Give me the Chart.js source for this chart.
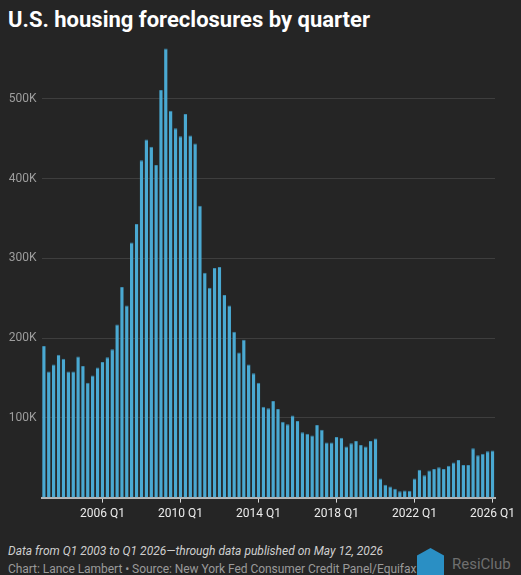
<!DOCTYPE html>
<html>
<head>
<meta charset="utf-8">
<script src="https://cdn.jsdelivr.net/npm/chart.js@4.4.1/dist/chart.umd.min.js"></script>
<style>
  html, body { margin: 0; padding: 0; background: #252525; }
  body { width: 521px; height: 575px; position: relative; overflow: hidden; font-family: Roboto, "Noto Sans", sans-serif; }
  #title { position: absolute; left: 8px; top: 7px; color: #fff; font-size: 22px; font-weight: 700; }
  #wrap { position: absolute; left: 0; top: 30px; width: 521px; height: 495px; }
  #note { position: absolute; left: 8px; top: 544px; color: #cfcfcf; font-size: 12px; font-style: italic; }
  #source { position: absolute; left: 8px; top: 562px; color: #9a9a9a; font-size: 12px; letter-spacing: -0.05px; }
  #logo { position: absolute; left: 417px; top: 548px; width: 27px; height: 30px; background: #2a8fc4;
          clip-path: polygon(50% 0, 100% 25%, 100% 100%, 0 100%, 0 25%); }
  #logoText { position: absolute; left: 452px; top: 555px; color: #6f6f6f; font-size: 15px; }
</style>
</head>
<body>
<div id="title">U.S. housing foreclosures by quarter</div>
<div id="wrap"><canvas id="chart"></canvas></div>
<div id="note">Data from Q1 2003 to Q1 2026—through data published on May 12, 2026</div>
<div id="source">Chart: Lance Lambert • Source: New York Fed Consumer Credit Panel/Equifax</div>
<div id="logo"></div>
<div id="logoText">ResiClub</div>
<script>
// --- Data (foreclosures per quarter, thousands) ---
const firstYear = 2003;
const lastYear = 2026;
const quarters = [];
for (let y = firstYear; y <= lastYear; y++) {
    for (let q = 1; q <= 4; q++) {
        if (y === lastYear && q > 1) break;
        quarters.push(`${y} Q${q}`);
    }
}

const foreclosuresK = [
    190, 158, 167, 179, 174, 158, 158, 177, 165, 144, 153, 163,   // 2003-2005
    170, 176, 186, 217, 264, 241, 320, 343,                       // 2006-2007
    423, 449, 440, 417, 511, 563, 485, 463,                       // 2008-2009
    453, 481, 454, 444, 366, 282, 263, 288,                       // 2010-2011
    289, 254, 241, 208, 182, 198, 167, 156,                       // 2012-2013
    144, 114, 112, 121, 111, 95, 92, 103,                         // 2014-2015
    96, 82, 80, 78, 91, 85, 69, 69,                               // 2016-2017
    76, 75, 64, 68, 71, 66, 64, 71,                               // 2018-2019
    74, 24, 16, 14, 11, 8, 9, 8.5,                                // 2020-2021
    24, 35, 28, 34, 36, 38, 36, 40,                               // 2022-2023
    44, 47, 41, 41, 62, 53, 55, 58,                               // 2024-2025
    59                                                            // 2026 Q1
];

const xTickLabels = ['2006 Q1', '2010 Q1', '2014 Q1', '2018 Q1', '2022 Q1', '2026 Q1'];
const yTicks = [100, 200, 300, 400, 500];

new Chart(document.getElementById('chart').getContext('2d'), {
    type: 'bar',
    data: {
        labels: quarters,
        datasets: [{
            data: foreclosuresK,
            backgroundColor: '#4aa9d2',
            borderColor: '#3b8db3',
            borderWidth: { top: 1, left: 0, right: 0, bottom: 0 },
            barPercentage: 0.72,
            categoryPercentage: 1
        }]
    },
    options: {
        responsive: true,
        maintainAspectRatio: false,
        animation: false,
        layout: { padding: { top: 8, right: 26, left: 0, bottom: 0 } },
        plugins: { legend: { display: false }, tooltip: { enabled: false } },
        scales: {
            x: {
                offset: true,
                grid: { offset: false, drawOnChartArea: false, drawTicks: true, tickLength: 5, color: '#d8d8d8' },
                border: { display: true, color: '#b5b5b5', width: 2 },
                ticks: {
                    autoSkip: false,
                    maxRotation: 0,
                    color: '#ececec',
                    font: { family: 'Roboto', size: 12 },
                    padding: 4,
                    callback: function (val) {
                        const lab = this.getLabelForValue(val);
                        return xTickLabels.includes(lab) ? lab : null;
                    }
                }
            },
            y: {
                min: 0,
                max: 571,
                afterFit: (scale) => { scale.width = 41.5; },
                afterBuildTicks: (scale) => { scale.ticks = yTicks.map(v => ({ value: v })); },
                grid: { color: '#3e3e3e', drawTicks: false, lineWidth: 1 },
                border: { display: false },
                ticks: {
                    color: '#9d9d9d',
                    padding: 5,
                    font: { family: 'Roboto', size: 12 },
                    callback: (v) => `${v}K`
                }
            }
        }
    }
});
</script>
</body>
</html>
